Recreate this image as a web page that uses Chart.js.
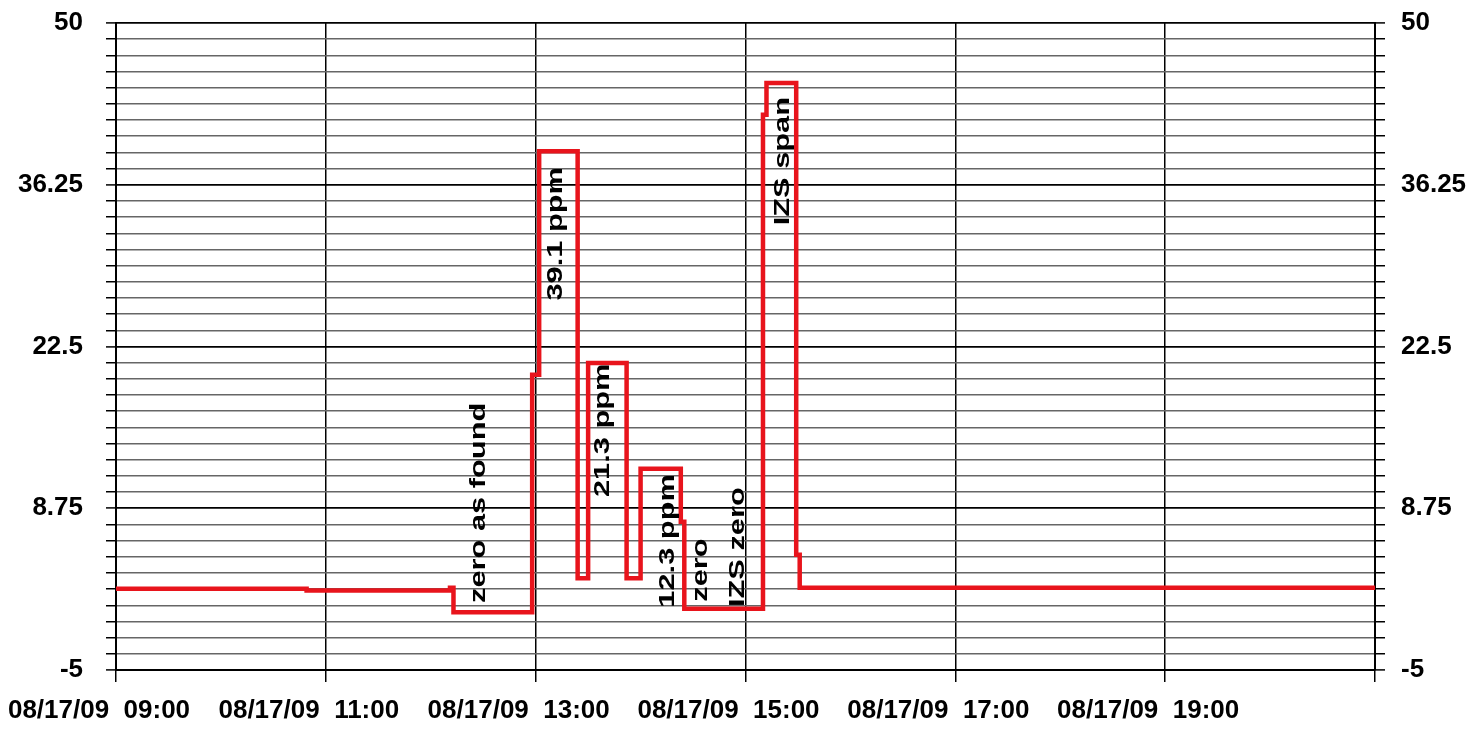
<!DOCTYPE html>
<html>
<head>
<meta charset="utf-8">
<script src="https://cdn.jsdelivr.net/npm/chart.js@4/dist/chart.umd.min.js"></script>
<style>
  html, body { margin: 0; padding: 0; background: #ffffff; }
  #wrap { width: 1475px; height: 729px; position: relative; }
</style>
</head>
<body>
<div id="wrap"><canvas id="c" width="1475" height="729"></canvas></div>
<script>
// ---- data ----
const dateLabel = "08/17/09";
const changeTimes = ["09:00","10:49","12:11","12:13","12:58","13:02","13:24","13:30","13:52","14:00","14:23","14:25","15:10","15:12","15:29","15:31","21:00"];
const levels      = [1.9,    1.75,   2.0,    -0.1,   20.1,   39.1,   2.8,    21.1,   2.8,    12.1,   7.6,    0.2,    42.2,   44.9,   4.8,    2.0,    2.0];
const yTickLabels = ["-5", "8.75", "22.5", "36.25", "50"];
const noteTexts   = ["zero as found", "39.1 ppm", "21.3 ppm", "12.3 ppm", "zero", "IZS zero", "IZS span"];
const noteTimes   = ["12:31", "13:15", "13:42", "14:19", "14:38", "14:59", "15:25"];
const noteValues  = [0.7,     26.4,   9.7,     0.3,     0.8,     0.35,    32.8];

function toHours(t) { const p = t.split(":"); return +p[0] + (+p[1]) / 60; }
const points = changeTimes.map((t, i) => ({ x: toHours(t), y: levels[i] }));

const FONT = '"Liberation Sans", Arial, sans-serif';

const notesPlugin = {
  id: 'notes',
  afterDatasetsDraw(chart) {
    const ctx = chart.ctx, xs = chart.scales.x, ys = chart.scales.y;
    ctx.save();
    ctx.fillStyle = '#000';
    ctx.font = 'bold 22px ' + FONT;
    ctx.textAlign = 'left';
    ctx.textBaseline = 'alphabetic';
    noteTexts.forEach((txt, i) => {
      const px = xs.getPixelForValue(toHours(noteTimes[i]));
      const py = ys.getPixelForValue(noteValues[i]);
      ctx.save();
      ctx.translate(px, py);
      ctx.rotate(-Math.PI / 2);
      ctx.scale(1.4, 1);
      ctx.fillText(txt, 0, 0);
      ctx.restore();
    });
    ctx.restore();
  }
};

const bgPlugin = {
  id: 'bg',
  beforeDraw(chart) {
    const ctx = chart.ctx;
    ctx.save();
    ctx.fillStyle = '#fff';
    ctx.fillRect(0, 0, chart.width, chart.height);
    ctx.restore();
  }
};

const yGrid = {
  color: (c) => (c.index % 10 === 0 ? '#000' : '#666666'),
  lineWidth: (c) => (c.index % 10 === 0 ? 1.8 : 1.5),
  tickColor: '#000',
  tickWidth: 1.5,
  tickLength: 10
};
const yTicksCommon = {
  stepSize: 1.375,
  autoSkip: false,
  color: '#000',
  font: { family: FONT, size: 26, weight: 'bold' },
  callback: (v, i) => (i % 10 === 0 ? yTickLabels[i / 10] : '')
};

new Chart(document.getElementById('c'), {
  type: 'line',
  data: {
    datasets: [{
      data: points,
      stepped: true,
      borderColor: '#e8141c',
      borderWidth: 4.5,
      pointRadius: 0,
      fill: false,
      borderJoinStyle: 'miter'
    }]
  },
  options: {
    responsive: false,
    animation: false,
    layout: { padding: { top: 23, left: 0, right: 0, bottom: 0 } },
    plugins: { legend: { display: false }, tooltip: { enabled: false } },
    scales: {
      x: {
        type: 'linear',
        min: 9, max: 21,
        border: { color: '#000', width: 2 },
        grid: { color: '#000', lineWidth: 1.5, tickColor: '#000', tickLength: 12 },
        ticks: {
          stepSize: 2,
          autoSkip: false,
          maxRotation: 0,
          padding: 13,
          labelOffset: -17,
          color: '#000',
          font: { family: FONT, size: 26, weight: 'bold' },
          callback: (v) => (v >= 21 ? '' : dateLabel + '  ' + String(v).padStart(2, '0') + ':00')
        },
        afterFit: (s) => { s.height = 59; s.paddingLeft = 0; s.paddingRight = 0; }
      },
      y: {
        position: 'left',
        min: -5, max: 50,
        border: { color: '#000', width: 2 },
        grid: yGrid,
        ticks: Object.assign({ padding: 23 }, yTicksCommon),
        afterFit: (s) => { s.width = 116; s.paddingTop = 0; s.paddingBottom = 0; }
      },
      y2: {
        position: 'right',
        min: -5, max: 50,
        border: { color: '#000', width: 2 },
        grid: Object.assign({}, yGrid, { drawOnChartArea: false }),
        ticks: Object.assign({ padding: 16 }, yTicksCommon),
        afterFit: (s) => { s.width = 100; s.paddingTop = 0; s.paddingBottom = 0; }
      }
    }
  },
  plugins: [bgPlugin, notesPlugin]
});
</script>
</body>
</html>
